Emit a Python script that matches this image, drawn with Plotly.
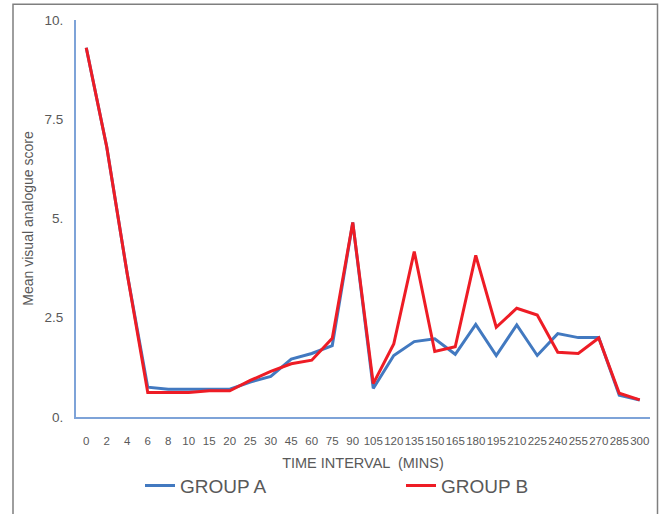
import plotly.graph_objects as go

time_labels = ["0", "2", "4", "6", "8", "10", "15", "20", "25", "30", "45", "60", "75",
               "90", "105", "120", "135", "150", "165", "180", "195", "210", "225",
               "240", "255", "270", "285", "300"]
group_a = [9.3, 6.8, 3.6, 0.75, 0.7, 0.7, 0.7, 0.7, 0.88, 1.02, 1.46, 1.6, 1.8,
           4.9, 0.72, 1.55, 1.9, 1.97, 1.58, 2.33, 1.55, 2.32, 1.55, 2.1, 2.0, 2.0,
           0.55, 0.43]
group_b = [9.3, 6.8, 3.6, 0.62, 0.62, 0.62, 0.66, 0.66, 0.92, 1.15, 1.34, 1.43, 1.98,
           4.9, 0.84, 1.84, 4.17, 1.65, 1.77, 4.07, 2.26, 2.74, 2.57, 1.63, 1.6, 1.99,
           0.6, 0.43]
y_ticks = [0, 2.5, 5, 7.5, 10]
y_tick_text = ["0.", "2.5", "5.", "7.5", "10."]

fig = go.Figure()
fig.add_trace(go.Scatter(x=time_labels, y=group_a, mode="lines", name="GROUP A",
                         line=dict(color="#4279c0", width=3), legend="legend"))
fig.add_trace(go.Scatter(x=time_labels, y=group_b, mode="lines", name="GROUP B",
                         line=dict(color="#ee1c25", width=3), legend="legend2"))

PLOT_W, PLOT_H = 574, 403
leg_common = dict(yanchor="bottom", xanchor="left",
                  y=-(512 - 423) / PLOT_H, font=dict(size=19, color="#595959"),
                  bgcolor="rgba(0,0,0,0)", itemwidth=30)

fig.update_layout(
    width=659, height=514,
    margin=dict(l=76, r=9, t=20, b=91),
    paper_bgcolor="white", plot_bgcolor="white",
    font=dict(family="Liberation Sans, Arial, sans-serif", color="#595959"),
    showlegend=True,
    legend=dict(x=(140 - 76) / PLOT_W, **leg_common),
    legend2=dict(x=(401 - 76) / PLOT_W, **leg_common),
    xaxis=dict(type="category", range=[-0.5, 27.5], showline=True, linecolor="#7ea3d8",
               linewidth=2, showgrid=False, ticks="", zeroline=False, automargin=False,
               tickangle=0, ticklabelstandoff=12,
               tickfont=dict(family="Liberation Sans Narrow, Liberation Sans, Arial", size=11.5,
                             color="#595959"),
               title=dict(text="TIME INTERVAL  (MINS)", font=dict(size=14.5, color="#595959"),
                          standoff=12)),
    yaxis=dict(range=[0, 10], showline=True, linecolor="#7ea3d8", linewidth=2,
               showgrid=False, zeroline=False, tickvals=y_ticks, ticktext=y_tick_text,
               ticks="", automargin=False, ticklabelstandoff=8,
               tickfont=dict(size=13.5, color="#595959"),
               title=dict(text="Mean visual analogue score", font=dict(size=14, color="#595959"),
                          standoff=8)),
    shapes=[dict(type="rect", xref="paper", yref="paper",
                 x0=-63 / PLOT_W, x1=581.5 / PLOT_W, y0=-200 / PLOT_H, y1=(PLOT_H + 16) / PLOT_H,
                 line=dict(color="#7f7f7f", width=1.5), fillcolor="rgba(0,0,0,0)",
                 layer="below")],
)

fig.write_html("out.html", config={"displayModeBar": False},
               post_script="document.body.style.margin='0';")
